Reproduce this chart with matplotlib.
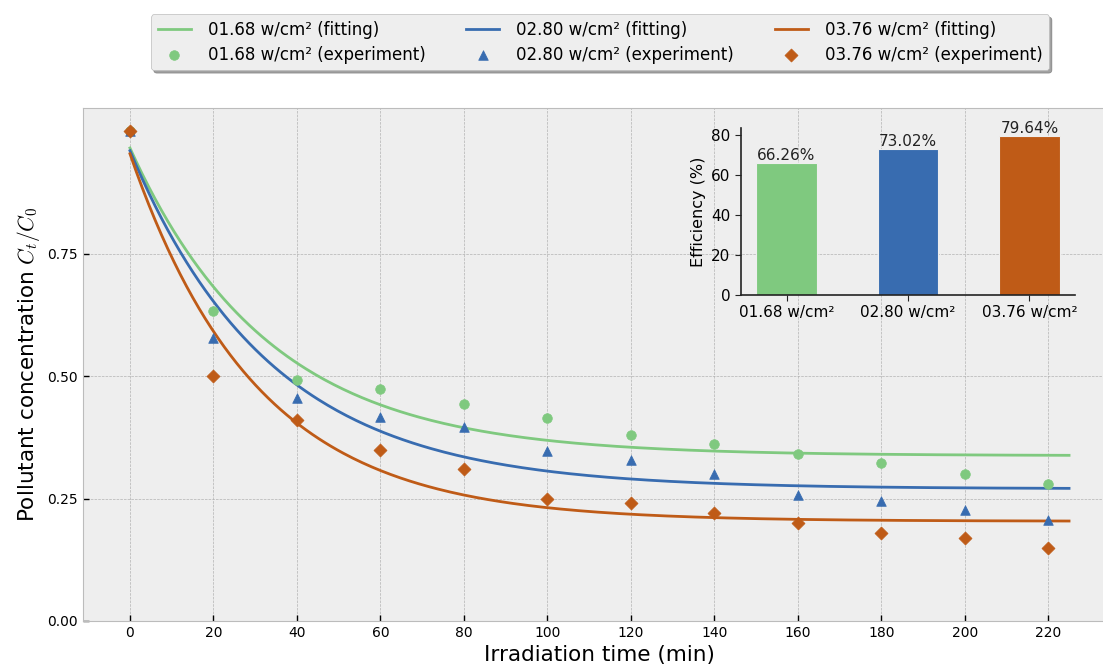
import numpy as np
import matplotlib
matplotlib.use("Agg")
import matplotlib.pyplot as plt

# ---------------- data ----------------
time_min = [0, 20, 40, 60, 80, 100, 120, 140, 160, 180, 200, 220]
labels = ["01.68 w/cm²", "02.80 w/cm²", "03.76 w/cm²"]
exp_168 = [1.00, 0.633, 0.492, 0.473, 0.443, 0.414, 0.380, 0.361, 0.341, 0.322, 0.300, 0.280]
exp_280 = [1.00, 0.578, 0.455, 0.416, 0.396, 0.347, 0.329, 0.300, 0.257, 0.245, 0.227, 0.206]
exp_376 = [1.00, 0.500, 0.410, 0.350, 0.310, 0.250, 0.240, 0.220, 0.200, 0.180, 0.170, 0.150]
# first-order fit parameters  C/C0 = plateau + amplitude * exp(-rate * t)
fit_plateau = [0.3374, 0.2698, 0.2036]
fit_amplitude = [0.628, 0.690, 0.750]
fit_rate = [0.030, 0.0295, 0.033]
fit_t_max = 225
efficiency = [66.26, 73.02, 79.64]
colors = ["#7fc97f", "#386cb0", "#bf5b17"]
markers = ["o", "^", "D"]

plt.style.use("bmh")
plt.rcParams["font.family"] = ["DejaVu Sans"]
plt.rcParams["mathtext.fontset"] = "cm"

W, H = 1103, 666
fig = plt.figure(figsize=(W / 100, H / 100), dpi=100)
ax = fig.add_axes([83 / W, (H - 621) / H, (1116 - 83) / W, (621 - 108) / H])

t_fit = np.linspace(0, fit_t_max, 300)
exps = [exp_168, exp_280, exp_376]
handles = []
for i in range(3):
    yfit = fit_plateau[i] + fit_amplitude[i] * np.exp(-fit_rate[i] * t_fit)
    ln, = ax.plot(t_fit, yfit, color=colors[i], lw=2, label=f"{labels[i]} (fitting)")
    sc = ax.scatter(time_min, exps[i], color=colors[i], marker=markers[i],
                    s=48 if markers[i] != "D" else 44, zorder=3,
                    label=f"{labels[i]} (experiment)")
    handles += [ln, sc]

ax.set_xlim(-11.25, 236.25)
ax.set_ylim(0, 1.047)
ax.set_xticks(np.arange(0, 221, 20))
ax.set_yticks([0, 0.25, 0.5, 0.75])
ax.tick_params(labelsize=10, direction="in", length=4, width=1, color="black")
ax.set_xlabel("Irradiation time (min)", fontsize=15.5)
ax.set_ylabel("Pollutant concentration $C_t/C_0$", fontsize=15.5)

leg = fig.legend(handles=handles, loc="upper center", ncol=3,
                 bbox_to_anchor=(600 / W, 1 - 6 / H), fontsize=12,
                 shadow=True, frameon=True, columnspacing=2.45,
                 labelspacing=0.4, handletextpad=1.0)
leg.get_frame().set_facecolor("#eeeeee")
leg.get_frame().set_edgecolor("#bcbcbc")

# inset
ins = fig.add_axes([741 / W, (H - 295) / H, (1075 - 741) / W, (295 - 128) / H])
ins.patch.set_alpha(0)
ins.grid(False)
x = np.arange(3)
bars = ins.bar(x, efficiency, width=0.5, color=colors, edgecolor="#eeeeee", linewidth=0.8)
for b, v in zip(bars, efficiency):
    ins.text(b.get_x() + b.get_width() / 2, v, f"{v:.2f}%", ha="center", va="bottom",
             fontsize=11, color="#222222")
ins.set_xticks(x)
ins.set_xticklabels(labels)
ins.set_yticks([0, 20, 40, 60, 80])
ins.tick_params(labelsize=11, direction="out", length=4, color="#222222")
ins.set_ylabel("Efficiency (%)", fontsize=11.5)
for s in ["top", "right"]:
    ins.spines[s].set_visible(False)
for s in ["left", "bottom"]:
    ins.spines[s].set_color("#222222")
    ins.spines[s].set_linewidth(1.2)

fig.savefig("out.png", dpi=100)
